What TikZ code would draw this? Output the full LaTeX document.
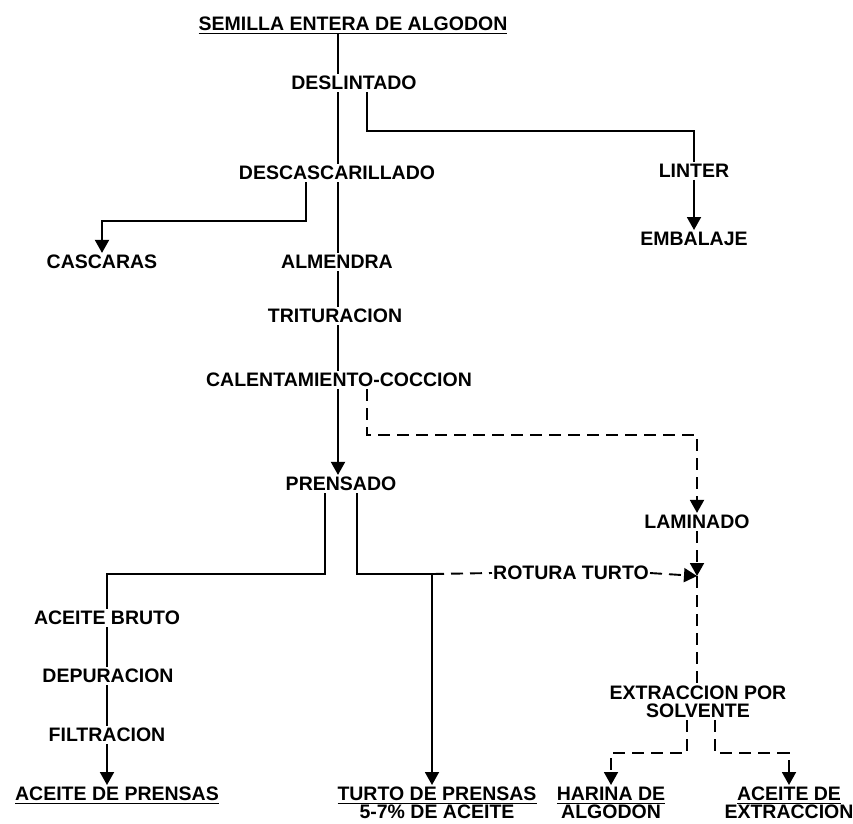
\documentclass[tikz,border=0pt]{standalone}
\usepackage{fontspec}
\setmainfont{Liberation Sans}
\usetikzlibrary{arrows.meta}

% underline that does not push the next line down
\newcommand\rayado[1]{\leavevmode\setbox0\hbox{#1}\rlap{\copy0}\smash{\rule[-3.6pt]{\wd0}{1.6pt}}}

\tikzset{
  paso/.style={font=\bfseries\fontsize{19.5}{18}\selectfont, inner sep=2pt, align=center},
  linea/.style={line width=1.9pt},
  flecha/.style={linea, -{Triangle[width=14pt,length=13pt]}},
  discont/.style={dash pattern=on 12pt off 7pt},
}

\begin{document}
\begin{tikzpicture}[x=1pt,y=-1pt]
  \useasboundingbox (0,0) rectangle (853,823);

  % ---- stems --------------------------------------
  \coordinate (tallo) at (338,0);
  \coordinate (izq) at (107,0);
  \coordinate (codo) at (432,574);
  \coordinate (cruce) at (697,576);

  % ---- main column --------------------------------
  \node[paso] (semilla) at (353,24) {\rayado{SEMILLA ENTERA DE ALGODON}};
  \node[paso] (deslintado) at (354,83) {DESLINTADO};
  \node[paso] (descasc) at (337,173) {DESCASCARILLADO};
  \node[paso] (almendra) at (337,262) {ALMENDRA};
  \node[paso] (trituracion) at (335,316) {TRITURACION};
  \node[paso] (calent) at (339,380) {CALENTAMIENTO-COCCION};
  \node[paso] (prensado) at (341,484) {PRENSADO};

  % ---- side products ------------------------------
  \node[paso] (linter) at (694,171) {LINTER};
  \node[paso] (embalaje) at (694,239) {EMBALAJE};
  \node[paso] (cascaras) at (102,262) {CASCARAS};

  % ---- press oil ----------------------------------
  \node[paso] (aceitebruto) at (107,618) {ACEITE BRUTO};
  \node[paso] (depuracion) at (108,676) {DEPURACION};
  \node[paso] (filtracion) at (107,735) {FILTRACION};
  \node[paso, anchor=north] (aceiteprensas) at (117,785) {\rayado{ACEITE DE PRENSAS}};
  \node[paso, anchor=north] (turto) at (437,785) {\rayado{TURTO DE PRENSAS}\\5-7\% DE ACEITE};

  % ---- solvent route ------------------------------
  \node[paso] (laminado) at (697,522) {LAMINADO};
  \node[paso, inner sep=1pt] (rotura) at (571,573) {ROTURA TURTO};
  \node[paso] (extraccion) at (698,702) {EXTRACCION POR\\SOLVENTE};
  \node[paso, anchor=north] (harina) at (611,785) {\rayado{HARINA DE}\\ALGODON};
  \node[paso, anchor=north] (aceiteext) at (789,785) {\rayado{ACEITE DE}\\EXTRACCION};

  % ---- connectors ---------------------------------
  \foreach \a/\b in {semilla/deslintado, deslintado/descasc, descasc/almendra,
                     almendra/trituracion, trituracion/calent}
    \draw[linea] (\a.south -| tallo) -- (\b.north -| tallo);
  \draw[flecha] (calent.south -| tallo) -- (prensado.north -| tallo);

  \draw[linea] (deslintado.south -| 367,0) -- (367,131) -| (linter.north);
  \draw[flecha] (linter) -- (embalaje);
  \draw[flecha] (descasc.south -| 306,0) -- (306,221) -| (cascaras.north);

  \draw[linea] (prensado.south -| 325,0) -- (325,574) -| (aceitebruto.north -| izq);
  \draw[linea] (aceitebruto.south -| izq) -- (depuracion.north -| izq);
  \draw[linea] (depuracion.south -| izq) -- (filtracion.north -| izq);
  \draw[flecha] (filtracion.south -| izq) -- (aceiteprensas.north -| izq);
  \draw[flecha] (prensado.south -| 357,0) |- (codo) -- (turto.north -| codo);

  % ---- dashed: solvent extraction -----------------
  \draw[flecha, discont] (calent.south -| 367,0) -- (367,435) -| (laminado.north);
  \draw[flecha, discont] (laminado.south) -- (cruce);
  \draw[linea, discont] (codo) -- (rotura.west);
  \draw[flecha, discont] (rotura.east) -- (cruce);
  \draw[linea, discont] (cruce) -- (extraccion.north -| cruce);
  \draw[flecha, discont] (extraccion.south -| 687,0) -- (687,753) -| (harina.north);
  \draw[flecha, discont] (extraccion.south -| 715,0) -- (715,753) -| (aceiteext.north);
\end{tikzpicture}
\end{document}
